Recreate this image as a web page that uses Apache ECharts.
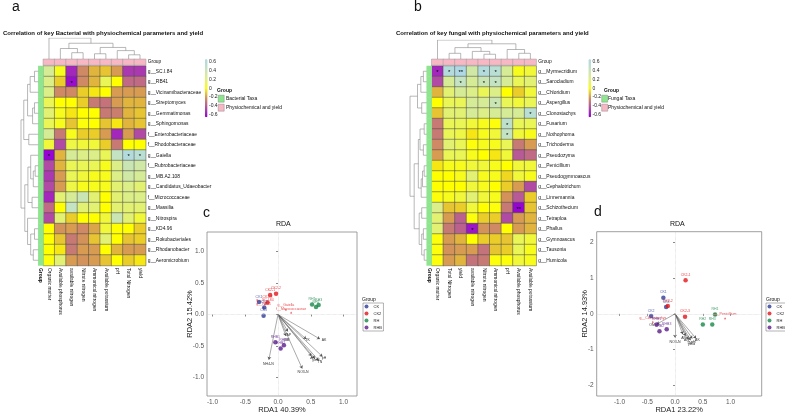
<!DOCTYPE html>
<html>
<head>
<meta charset="utf-8">
<script src="https://cdn.jsdelivr.net/npm/echarts@6/dist/echarts.min.js"></script>
<style>html,body{margin:0;background:#fff}#chart{width:785px;height:415px}</style>
</head>
<body>
<div id="chart"></div>
<script>
// ---- data: panel a (bacteria) ----
var bacRows = ['g__SC.I.84', 'g__RB41', 'g__Vicinamibacteraceae', 'g__Streptomyces', 'g__Gemmatimonas',
  'g__Sphingomonas', 'f__Enterobacteriaceae', 'f__Rhodobacteraceae', 'g__Gaiella', 'f__Rubrobacteriaceae',
  'g__MB.A2.108', 'g__Candidatus_Udaeobacter', 'f__Micrococcaceae', 'g__Massilia', 'g__Nitrospira',
  'g__KD4.96', 'g__Rokubacteriales', 'g__Rhodanobacter', 'g__Aeromicrobium'];
var bacCols = ['Organic matter', 'Available phosphorus', 'available nitrogen', 'Nitrate nitrogen',
  'Ammonical nitrogen', 'Available potassium', 'pH', 'Total Nitrogen', 'yield'];
var bacCorr = [
  [0.30, 0.05, -0.55, -0.25, -0.15, -0.12, -0.20, -0.50, -0.50],
  [0.25, -0.10, -0.62, -0.25, -0.15, 0.15, 0.00, -0.35, -0.35],
  [0.25, -0.25, -0.25, -0.10, -0.05, 0.00, -0.20, -0.20, -0.20],
  [0.15, 0.00, 0.00, -0.10, -0.30, -0.32, -0.20, -0.15, -0.15],
  [0.20, 0.05, -0.05, 0.00, 0.00, -0.30, -0.28, -0.15, -0.12],
  [0.15, 0.05, -0.12, 0.02, 0.00, -0.12, -0.05, -0.15, -0.12],
  [0.30, -0.30, 0.05, -0.10, -0.10, -0.20, -0.55, -0.20, -0.45],
  [0.10, -0.45, 0.12, 0.10, 0.10, -0.10, -0.30, 0.00, 0.00],
  [-0.65, -0.15, 0.30, 0.25, 0.25, 0.15, 0.45, 0.60, 0.55],
  [-0.45, -0.15, 0.15, 0.15, 0.15, 0.05, 0.25, 0.40, 0.35],
  [-0.50, -0.20, 0.15, 0.10, 0.05, 0.05, 0.25, 0.35, 0.30],
  [-0.45, -0.20, 0.12, 0.05, 0.05, 0.05, 0.20, 0.25, 0.20],
  [-0.55, 0.20, 0.30, 0.40, 0.20, 0.00, 0.20, 0.25, 0.25],
  [-0.35, 0.00, 0.45, 0.20, 0.20, 0.00, 0.20, 0.20, 0.20],
  [-0.45, 0.20, -0.10, 0.00, 0.00, 0.10, 0.40, 0.20, 0.10],
  [0.00, -0.22, -0.20, -0.25, -0.18, 0.10, 0.00, 0.00, -0.10],
  [0.00, -0.12, -0.30, -0.22, -0.12, 0.20, 0.00, -0.12, -0.10],
  [0.00, -0.05, -0.30, -0.20, -0.20, 0.00, -0.15, -0.20, -0.20],
  [0.02, 0.20, -0.20, -0.22, -0.20, -0.12, 0.00, -0.10, -0.05]
];
var bacStars = [[1, 2, '*'], [8, 0, '*'], [8, 7, '*'], [8, 8, '*']];
// hclust style merges: negative = leaf (1-based), positive = earlier merge
var bacRowTree = [[-1, -2, 0.22], [-4, -5, 0.22], [2, -6, 0.33], [1, -3, 0.47], [4, 3, 0.62],
  [-7, -8, 0.55], [5, 6, 0.84], [-10, -11, 0.18], [8, -12, 0.29], [-9, 9, 0.44], [-13, -14, 0.36],
  [10, 11, 0.6], [-16, -17, 0.22], [-18, -19, 0.29], [13, 14, 0.44], [-15, 15, 0.62], [12, 16, 0.78], [7, 17, 1]];
var bacColTree = [[-8, -9, 0.2], [-3, -4, 0.3], [-5, -6, 0.25], [-7, 1, 0.4], [-2, 2, 0.5],
  [3, 4, 0.55], [5, 6, 0.75], [-1, 7, 1]];

// ---- data: panel b (fungi) ----
var funRows = ['g__Myrmecridium', 'g__Sarocladium', 'g__Chloridium', 'g__Aspergillus', 'g__Clonostachys',
  'g__Fusarium', 'g__Nothophoma', 'g__Trichoderma', 'g__Pseudozyma', 'g__Penicillium',
  'g__Pseudogymnoascus', 'g__Cephalotrichum', 'g__Linnemannia', 'g__Schizothecium', 'g__Tetraploa',
  'g__Phallus', 'g__Gymnoascus', 'g__Tausonia', 'g__Humicola'];
var funCols = ['Organic matter', 'Total Nitrogen', 'yield', 'available nitrogen', 'Nitrate nitrogen',
  'Ammonical nitrogen', 'pH', 'Available phosphorus', 'Available potassium'];
var funCorr = [
  [-0.55, 0.60, 0.65, 0.35, 0.60, 0.55, 0.30, 0.05, 0.10],
  [-0.45, 0.30, 0.45, 0.30, 0.40, 0.45, 0.30, 0.15, 0.20],
  [-0.15, 0.20, 0.30, 0.25, 0.15, 0.25, 0.00, -0.10, 0.10],
  [0.00, 0.15, 0.15, 0.30, 0.30, 0.40, 0.15, 0.10, 0.15],
  [-0.12, 0.20, 0.20, 0.30, 0.25, 0.30, 0.30, 0.30, 0.55],
  [-0.30, 0.15, 0.15, 0.10, 0.05, 0.02, 0.50, 0.15, 0.15],
  [-0.30, 0.15, 0.12, -0.05, 0.05, 0.10, 0.45, 0.10, 0.05],
  [-0.25, 0.20, 0.15, 0.02, 0.05, 0.05, 0.15, -0.30, -0.20],
  [-0.20, 0.15, 0.15, 0.05, 0.00, -0.05, 0.10, -0.40, -0.35],
  [-0.05, 0.05, 0.05, 0.10, 0.10, 0.05, 0.00, 0.10, 0.10],
  [0.00, 0.00, 0.05, 0.20, 0.05, 0.05, -0.08, 0.10, 0.05],
  [0.00, 0.00, 0.00, 0.10, 0.05, 0.00, -0.10, -0.20, -0.45],
  [0.02, 0.05, 0.10, 0.20, 0.10, 0.05, -0.22, -0.40, -0.10],
  [0.25, -0.12, -0.10, 0.10, 0.00, 0.02, -0.30, -0.65, -0.12],
  [0.20, -0.20, -0.38, 0.02, -0.10, -0.10, -0.45, -0.20, -0.15],
  [0.20, -0.30, -0.38, -0.60, -0.22, -0.25, 0.00, -0.20, -0.15],
  [0.02, -0.20, -0.15, 0.00, -0.10, -0.10, -0.12, 0.15, 0.10],
  [0.02, -0.22, -0.20, -0.20, -0.32, -0.12, -0.10, 0.15, 0.05],
  [0.02, -0.20, -0.15, -0.32, -0.30, 0.02, 0.02, 0.10, 0.05]
];
var funStars = [[0, 0, '*'], [0, 1, '*'], [0, 2, '**'], [0, 4, '*'], [0, 5, '*'], [1, 2, '*'], [1, 4, '*'],
  [1, 5, '*'], [3, 5, '*'], [4, 8, '*'], [5, 6, '*'], [6, 6, '*'], [13, 7, '**'], [15, 3, '*']];
var funRowTree = [[-1, -2, 0.2], [1, -3, 0.35], [-4, -5, 0.3], [2, 3, 0.55], [-6, -7, 0.15], [-8, -9, 0.2],
  [5, 6, 0.4], [-10, -11, 0.15], [8, -12, 0.25], [9, -13, 0.33], [7, 10, 0.5], [-14, -15, 0.3],
  [-16, -17, 0.2], [-18, -19, 0.15], [13, 14, 0.3], [12, 15, 0.45], [11, 16, 0.75], [4, 17, 1]];
var funColTree = [[-2, -3, 0.3], [-5, -6, 0.25], [-4, 2, 0.4], [1, 3, 0.6], [-8, -9, 0.3], [-7, 5, 0.5],
  [4, 6, 0.8], [-1, 7, 1]];

// ---- data: RDA panels ----
var groups = ['CK', 'CK2', 'RH', 'RHB'];
var groupColors = ['#2f3c99', '#e3151b', '#17884a', '#5b1b8c'];
var rdaCSamples = {
  CK: [['CK1', -0.29, 0.20], ['CK2', -0.21, 0.11], ['CK3', -0.22, -0.02]],
  CK2: [['CK2-1', -0.12, 0.31], ['CK2-2', -0.03, 0.33], ['CK2-3', -0.16, 0.19]],
  RH: [['RH1', 0.52, 0.16], ['RH2', 0.58, 0.12], ['RH3', 0.62, 0.15]],
  RHB: [['RHB1', -0.04, -0.44], ['RHB2', 0.04, -0.54], ['RHB3', 0.09, -0.49]]
};
var rdaCEnv = [['AK', 0.64, -0.39], ['pH', 0.68, -0.67], ['TN', 0.62, -0.73], ['yield', 0.56, -0.70],
  ['AN', 0.51, -0.66], ['NO3-N', 0.37, -0.86], ['NH4-N', -0.14, -0.72], ['OM', 0.12, -0.34], ['AP', 0.15, -0.27],
  ['TK', 0.43, -0.39]];
var rdaCTaxa = [['g__Gaiella', 0.12, 0.08], ['f__Micrococcaceae', 0.2, 0.03], ['g__SC.I.84', -0.2, 0.17],
  ['g__RB41', -0.22, 0.11]];
var rdaDSamples = {
  CK: [['CK1', -0.21, 0.45], ['CK2', -0.43, -0.06], ['CK3', -0.16, 0.19]],
  CK2: [['CK2-1', 0.19, 0.94], ['CK2-2', -0.13, 0.22], ['CK2-3', 0.18, -0.08]],
  RH: [['RH1', 0.72, -0.02], ['RH2', 0.5, -0.3], ['RH3', 0.67, -0.3]],
  RHB: [['RHB1', -0.33, -0.30], ['RHB2', -0.28, -0.49], ['RHB3', -0.15, -0.43]]
};
var rdaDEnv = [['OM', -0.33, -0.29], ['NO3-N', 0.0, -0.67], ['AN', 0.19, -0.62], ['TN', 0.24, -0.71],
  ['yield', 0.28, -0.74], ['pH', 0.31, -0.69], ['AK', 0.38, -0.69], ['AP', 0.14, -0.57]];
var rdaDTaxa = [['g__Penicillium', 0.9, -0.12], ['g__Clonostachys', -0.4, -0.22]];

var FONT = 'Liberation Sans';

// ---- helpers ----
function dendro(tree, swap) {
  var pos = [], ht = [], out = [];
  function node(id) {
    return id < 0 ? [-id - 1, 0] : [pos[id - 1], ht[id - 1]];
  }
  tree.forEach(function (m, i) {
    var a = node(m[0]), b = node(m[1]);
    pos[i] = (a[0] + b[0]) / 2;
    ht[i] = m[2];
    var pts = [[a[0], a[1]], [a[0], m[2]], [b[0], m[2]], [b[0], b[1]]];
    if (swap) pts = pts.map(function (p) { return [p[1], p[0]]; });
    out.push({coords: pts});
  });
  return out;
}
function cells(mat, stars) {
  var d = [];
  mat.forEach(function (row, r) {
    row.forEach(function (v, c) {
      var s = stars.filter(function (t) { return t[0] === r && t[1] === c; });
      var item = {value: [c, r, v]};
      if (s.length) item.label = {show: true, formatter: s[0][2]};
      d.push(item);
    });
  });
  return d;
}

var grids = [], xAxes = [], yAxes = [], series = [], visualMaps = [];
var hidden = {show: false};

function heatPanel(o) {
  var g0 = grids.length;
  // 0 body, 1 group column, 2 group row, 3 col dendro, 4 row dendro, 5 colorbar axis
  grids.push({left: o.x, top: o.y, width: o.w, height: o.h});
  grids.push({left: o.x - 5, top: o.y, width: 5, height: o.h});
  grids.push({left: o.x, top: o.y - 6.7, width: o.w, height: 5.7});
  grids.push({left: o.x, top: o.dTop, width: o.w, height: o.y - 7 - o.dTop});
  grids.push({left: o.rLeft, top: o.y, width: o.x - 5 - o.rLeft, height: o.h});
  grids.push({left: o.cbX, top: 59.3, width: 2.5, height: 58});
  var lab = {fontFamily: FONT, fontSize: 4.9, color: '#111'};
  xAxes.push({gridIndex: g0, type: 'category', data: o.cols, axisLine: hidden, axisTick: hidden,
    axisLabel: Object.assign({rotate: -90, margin: 2.5, interval: 0}, lab)});
  yAxes.push({gridIndex: g0, type: 'category', data: o.rows, inverse: true, position: 'right',
    axisLine: hidden, axisTick: hidden, axisLabel: Object.assign({margin: 2, interval: 0}, lab)});
  xAxes.push({gridIndex: g0 + 1, type: 'category', data: ['Group'], axisLine: hidden, axisTick: hidden,
    axisLabel: Object.assign({rotate: -90, margin: 2.5, fontWeight: 'bold'}, lab)});
  yAxes.push({gridIndex: g0 + 1, type: 'category', data: o.rows, inverse: true, show: false});
  xAxes.push({gridIndex: g0 + 2, type: 'category', data: o.cols, show: false});
  yAxes.push({gridIndex: g0 + 2, type: 'category', data: ['Group'], position: 'right', axisLine: hidden,
    axisTick: hidden, axisLabel: Object.assign({margin: 2}, lab)});
  xAxes.push({gridIndex: g0 + 3, type: 'value', min: -0.5, max: 8.5, show: false});
  yAxes.push({gridIndex: g0 + 3, type: 'value', min: 0, max: 1, show: false});
  xAxes.push({gridIndex: g0 + 4, type: 'value', min: 0, max: 1, inverse: true, show: false});
  yAxes.push({gridIndex: g0 + 4, type: 'value', min: -0.5, max: 18.5, inverse: true, show: false});
  xAxes.push({gridIndex: g0 + 5, type: 'value', show: false});
  yAxes.push({gridIndex: g0 + 5, type: 'value', min: -0.66, max: 0.66, position: 'right',
    splitLine: hidden, axisLine: hidden, axisTick: hidden,
    axisLabel: {customValues: [-0.6, -0.4, -0.2, 0, 0.2, 0.4, 0.6], margin: 1.5, fontFamily: FONT,
      fontSize: 5, color: '#222', formatter: function (v) { return v === 0 ? '0' : v.toFixed(1); }}});
  var ax = xAxes.length - 6;
  var s0 = series.length;
  series.push({type: 'heatmap', xAxisIndex: ax, yAxisIndex: ax, data: cells(o.mat, o.stars),
    itemStyle: {borderColor: '#4a4a4a', borderWidth: 0.5},
    label: {show: false, color: '#000', fontSize: 6, offset: [0, 1.5]}, silent: true});
  series.push({type: 'heatmap', xAxisIndex: ax + 1, yAxisIndex: ax + 1, silent: true,
    data: o.rows.map(function (r, i) { return [0, i, 1]; }), itemStyle: {borderWidth: 0}});
  series.push({type: 'heatmap', xAxisIndex: ax + 2, yAxisIndex: ax + 2, silent: true,
    data: o.cols.map(function (c, i) { return [i, 0, 2]; }), itemStyle: {borderColor: '#999', borderWidth: 0.5}});
  series.push({type: 'lines', coordinateSystem: 'cartesian2d', xAxisIndex: ax + 3, yAxisIndex: ax + 3,
    polyline: true, silent: true, data: dendro(o.colTree, false), lineStyle: {color: '#888', width: 0.6, opacity: 1}});
  series.push({type: 'lines', coordinateSystem: 'cartesian2d', xAxisIndex: ax + 4, yAxisIndex: ax + 4,
    polyline: true, silent: true, data: dendro(o.rowTree, true), lineStyle: {color: '#888', width: 0.6, opacity: 1}});
  visualMaps.push({type: 'continuous', seriesIndex: s0, min: -0.66, max: 0.66, left: o.cbX, top: 59.3,
    itemWidth: 2.5, itemHeight: 58, padding: 0, calculable: false, text: null, realtime: false,
    inRange: {color: ['#9400d3', '#b24ea2', '#d3925a', '#ffff00', '#e0f07e', '#c5e3c0', '#add8e6']}});
  visualMaps.push({type: 'piecewise', show: false, seriesIndex: [s0 + 1, s0 + 2],
    pieces: [{value: 1, color: '#8fe58f'}, {value: 2, color: '#f7b8c4'}]});
}

heatPanel({x: 43.3, y: 66, w: 102.4, h: 199.5, dTop: 38, rLeft: 21, cbX: 205,
  rows: bacRows, cols: bacCols, mat: bacCorr, stars: bacStars, rowTree: bacRowTree, colTree: bacColTree});
heatPanel({x: 431.7, y: 66, w: 104.5, h: 199.5, dTop: 40, rLeft: 410, cbX: 588.5,
  rows: funRows, cols: funCols, mat: funCorr, stars: funStars, rowTree: funRowTree, colTree: funColTree});

function rdaPanel(o) {
  var gi = grids.length;
  grids.push({left: o.x, top: o.y, width: o.w, height: o.h, show: true, borderColor: '#888', borderWidth: 0.8});
  var tick = {fontFamily: FONT, fontSize: 6.5, color: '#555'};
  xAxes.push({gridIndex: gi, type: 'value', min: o.xr[0], max: o.xr[1], name: o.xName, nameLocation: 'middle',
    nameGap: 10, nameMoveOverlap: false, nameTextStyle: {fontFamily: FONT, fontSize: 7.5, color: '#222'},
    axisLine: hidden, splitLine: hidden, axisTick: {customValues: o.xt, length: 2, lineStyle: {color: '#888'}},
    axisLabel: Object.assign({customValues: o.xt, margin: 3, formatter: function (v) { return v.toFixed(1); }}, tick)});
  yAxes.push({gridIndex: gi, type: 'value', min: o.yr[0], max: o.yr[1], name: o.yName, nameLocation: 'middle',
    nameGap: o.yGap, nameMoveOverlap: false, nameTextStyle: {fontFamily: FONT, fontSize: 7.5, color: '#222'},
    axisLine: hidden, splitLine: hidden, axisTick: {customValues: o.yt, length: 2, lineStyle: {color: '#888'}},
    axisLabel: Object.assign({customValues: o.yt, margin: 3, formatter: o.yFmt}, tick)});
  var ai = xAxes.length - 1;
  series.push({type: 'lines', coordinateSystem: 'cartesian2d', xAxisIndex: ai, yAxisIndex: ai, silent: true,
    symbol: ['none', 'arrow'], symbolSize: 3,
    lineStyle: {color: '#555', width: 0.5, opacity: 1},
    label: {show: true, position: 'end', formatter: '{b}', fontFamily: FONT, fontSize: 3.5, color: '#333', distance: 2},
    data: o.env.map(function (e) { return {name: e[0], coords: [[0, 0], [e[1], e[2]]]}; }),
    markLine: {silent: true, symbol: 'none', label: hidden,
      lineStyle: {color: '#ccc', type: 'dotted', width: 0.6}, data: [{xAxis: 0}, {yAxis: 0}]}});
  series.push({type: 'scatter', xAxisIndex: ai, yAxisIndex: ai, silent: true, symbol: 'triangle', symbolSize: 2,
    itemStyle: {color: '#e3151b'},
    label: {show: true, position: 'top', distance: 1, formatter: '{b}', fontFamily: FONT, fontSize: 3.5, color: '#e3151b'},
    data: o.taxa.map(function (t) { return {name: t[0], value: [t[1], t[2]]}; })});
  groups.forEach(function (g, k) {
    series.push({type: 'scatter', name: g, xAxisIndex: ai, yAxisIndex: ai, silent: true, symbolSize: 4.5,
      itemStyle: {color: groupColors[k]},
      label: {show: true, position: 'top', distance: 1, formatter: '{b}', fontFamily: FONT, fontSize: 3.5, color: groupColors[k]},
      data: o.samples[g].map(function (s) { return {name: s[0], value: [s[1], s[2]]}; })});
  });
}

rdaPanel({x: 207, y: 232, w: 150, h: 165, xr: [-1.084, 1.206], yr: [-1.295, 1.311],
  xt: [-1, -0.5, 0, 0.5, 1], yt: [-1, -0.5, 0, 0.5, 1], yFmt: function (v) { return v.toFixed(1); }, yGap: 13.5,
  xName: 'RDA1 40.39%', yName: 'RDA2 15.42%', samples: rdaCSamples, env: rdaCEnv, taxa: rdaCTaxa});
rdaPanel({x: 596.7, y: 231.7, w: 165, h: 165.6, xr: [-1.41, 1.56], yr: [-2.3, 2.3],
  xt: [-1, -0.5, 0, 0.5, 1], yt: [-2, -1, 0, 1, 2], yFmt: function (v) { return String(v); }, yGap: 8,
  xName: 'RDA1 23.22%', yName: 'RDA2 14.93%', samples: rdaDSamples, env: rdaDEnv, taxa: rdaDTaxa});

function txt(t, left, top, size, weight, extra) {
  return Object.assign({text: t, left: left, top: top, padding: 0,
    textStyle: {fontFamily: FONT, fontSize: size, fontWeight: weight || 'normal', color: '#111'}}, extra || {});
}
var titles = [
  txt('a', 12, 0, 14),
  txt('b', 414, 0, 14),
  txt('c', 203, 206, 14),
  txt('d', 594, 205, 14),
  txt('Correlation of key Bacterial with physiochemical parameters and yield', 3, 30, 6, 'bold'),
  txt('Correlation of key fungal with physiochemical parameters and yield', 396, 30, 6, 'bold'),
  txt('RDA', 276, 221, 7),
  txt('RDA', 670, 221, 7),
  txt('Group', 217, 88, 5, 'bold'),
  txt('Bacterial Taxa', 226, 96, 5),
  txt('Physiochemical and yield', 226, 105, 5),
  txt('Group', 604, 88, 5, 'bold'),
  txt('Fungal Taxa', 608, 96, 5),
  txt('Physiochemical and yield', 608, 105, 5),
  txt('Group', 362, 297, 5),
  txt('Group', 766, 297, 5)
];

var legendBase = {orient: 'vertical', itemWidth: 4, itemHeight: 4, itemGap: 3, icon: 'circle',
  textStyle: {fontFamily: FONT, fontSize: 4, color: '#222'}, borderColor: '#666', borderWidth: 0.5,
  padding: 1.5, data: groups, selectedMode: false};

var chart = echarts.init(document.getElementById('chart'), null, {renderer: 'canvas'});
chart.setOption({
  animation: false,
  backgroundColor: '#fff',
  title: titles,
  grid: grids,
  xAxis: xAxes,
  yAxis: yAxes,
  visualMap: visualMaps,
  legend: [Object.assign({left: 363, top: 303}, legendBase), Object.assign({left: 766, top: 303}, legendBase)],
  graphic: [
    {type: 'rect', left: 218, top: 95, shape: {width: 6, height: 7}, style: {fill: '#8fe58f', stroke: '#777', lineWidth: 0.4}},
    {type: 'rect', left: 218, top: 104, shape: {width: 6, height: 7}, style: {fill: '#f7b8c4', stroke: '#777', lineWidth: 0.4}},
    {type: 'rect', left: 601.5, top: 95, shape: {width: 6, height: 7}, style: {fill: '#8fe58f', stroke: '#777', lineWidth: 0.4}},
    {type: 'rect', left: 601.5, top: 104, shape: {width: 6, height: 7}, style: {fill: '#f7b8c4', stroke: '#777', lineWidth: 0.4}}
  ],
  series: series
});
</script>
</body>
</html>
